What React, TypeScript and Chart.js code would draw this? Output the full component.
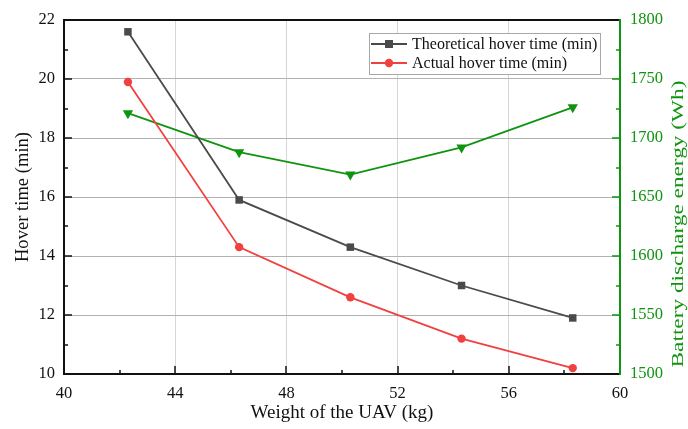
import React, { useEffect, useRef } from "react";
import { Chart, registerables } from "chart.js";

Chart.register(...registerables);

const weights = [42.3, 46.3, 50.3, 54.3, 58.3];
const theoretical = [21.6, 15.9, 14.3, 13.0, 11.9];
const actual = [19.9, 14.3, 12.6, 11.2, 10.2];
const energy = [1721, 1688, 1669, 1692, 1726];

const xTitle = "Weight of the UAV (kg)";
const yTitle = "Hover time (min)";
const y2Title = "Battery discharge energy (Wh)";
const legendLabels = ["Theoretical hover time (min)", "Actual hover time (min)"];

const GRAY = "#4a4a4a";
const RED = "#f0413e";
const GREEN = "#0f940f";
const FONT = '"Liberation Serif", "Times New Roman", serif';

const framePlugin = {
  id: "frame",
  afterDraw(chart: any) {
    const ctx = chart.ctx;
    const { left, right, top, bottom } = chart.chartArea;
    const xs = chart.scales.x;
    const ys = chart.scales.y;
    const y2 = chart.scales.y2;
    ctx.save();
    ctx.lineCap = "butt";
    // ticks
    ctx.lineWidth = 1.5;
    ctx.strokeStyle = "#111";
    for (let v = 40; v <= 60; v += 2) {
      const px = Math.round(xs.getPixelForValue(v));
      const len = v % 4 === 0 ? 8 : 4;
      ctx.beginPath();
      ctx.moveTo(px, bottom);
      ctx.lineTo(px, bottom - len);
      ctx.stroke();
    }
    for (let v = 10; v <= 22; v += 1) {
      const py = Math.round(ys.getPixelForValue(v));
      const len = v % 2 === 0 ? 8 : 4;
      ctx.beginPath();
      ctx.moveTo(left, py);
      ctx.lineTo(left + len, py);
      ctx.stroke();
    }
    ctx.strokeStyle = GREEN;
    for (let v = 1500; v <= 1800; v += 25) {
      const py = Math.round(y2.getPixelForValue(v));
      const len = v % 50 === 0 ? 8 : 4;
      ctx.beginPath();
      ctx.moveTo(right, py);
      ctx.lineTo(right - len, py);
      ctx.stroke();
    }
    // borders
    ctx.lineWidth = 2;
    ctx.strokeStyle = "#111";
    ctx.beginPath();
    ctx.moveTo(left, top);
    ctx.lineTo(right, top);
    ctx.moveTo(left, top - 1);
    ctx.lineTo(left, bottom + 1);
    ctx.moveTo(left, bottom);
    ctx.lineTo(right, bottom);
    ctx.stroke();
    ctx.strokeStyle = GREEN;
    ctx.beginPath();
    ctx.moveTo(right, top - 1);
    ctx.lineTo(right, bottom + 1);
    ctx.stroke();

    // titles
    ctx.textAlign = "center";
    ctx.textBaseline = "middle";
    ctx.fillStyle = "#111";
    ctx.font = `19px ${FONT}`;
    ctx.fillText(xTitle, (left + right) / 2, 413);
    ctx.font = `18.6px ${FONT}`;
    ctx.save();
    ctx.translate(23, 197);
    ctx.rotate(-Math.PI / 2);
    ctx.fillText(yTitle, 0, 0);
    ctx.restore();
    ctx.save();
    ctx.fillStyle = GREEN;
    ctx.font = `17px ${FONT}`;
    ctx.translate(679, 224);
    ctx.rotate(-Math.PI / 2);
    ctx.scale(1.37, 1);
    ctx.fillText(y2Title, 0, 0);
    ctx.restore();

    // legend
    const bx = 369.5, by = 33.5, bw = 231, bh = 41;
    ctx.fillStyle = "#fff";
    ctx.fillRect(bx, by, bw, bh);
    ctx.lineWidth = 1;
    ctx.strokeStyle = "#a8a8a8";
    ctx.strokeRect(bx, by, bw, bh);
    const rows = [
      { y: 44, color: GRAY, style: "rect" },
      { y: 63, color: RED, style: "circle" },
    ];
    ctx.font = `16px ${FONT}`;
    ctx.textAlign = "left";
    rows.forEach((r, i) => {
      ctx.strokeStyle = r.color;
      ctx.lineWidth = 1.8;
      ctx.beginPath();
      ctx.moveTo(371, r.y);
      ctx.lineTo(407, r.y);
      ctx.stroke();
      ctx.fillStyle = r.color;
      ctx.beginPath();
      if (r.style === "rect") {
        ctx.rect(389 - 4, r.y - 4, 8, 8);
      } else {
        ctx.arc(389, r.y, 4.2, 0, Math.PI * 2);
      }
      ctx.fill();
      ctx.fillStyle = "#111";
      ctx.fillText(legendLabels[i], 412, r.y + 1);
    });
    ctx.restore();
  },
};

export default function App() {
  const ref = useRef<HTMLCanvasElement | null>(null);
  useEffect(() => {
    if (!ref.current) return;
    const chart = new Chart(ref.current, {
      type: "line",
      data: {
        datasets: [
          {
            label: legendLabels[0],
            data: weights.map((w, i) => ({ x: w, y: theoretical[i] })),
            yAxisID: "y",
            borderColor: GRAY,
            backgroundColor: GRAY,
            borderWidth: 1.8,
            pointStyle: "rect",
            pointRadius: 5.3,
            pointBorderWidth: 0,
            tension: 0,
          },
          {
            label: legendLabels[1],
            data: weights.map((w, i) => ({ x: w, y: actual[i] })),
            yAxisID: "y",
            borderColor: RED,
            backgroundColor: RED,
            borderWidth: 1.8,
            pointStyle: "circle",
            pointRadius: 4.2,
            pointBorderWidth: 0,
            tension: 0,
          },
          {
            label: y2Title,
            data: weights.map((w, i) => ({ x: w, y: energy[i] })),
            yAxisID: "y2",
            borderColor: GREEN,
            backgroundColor: GREEN,
            borderWidth: 1.8,
            pointStyle: "triangle",
            pointRotation: 180,
            pointRadius: 6,
            pointBorderWidth: 0,
            tension: 0,
          },
        ],
      },
      options: {
        responsive: false,
        animation: false,
        layout: { padding: { top: 20, left: 0, right: 0, bottom: 0 } },
        plugins: { legend: { display: false }, tooltip: { enabled: false } },
        scales: {
          x: {
            type: "linear",
            min: 40,
            max: 60,
            afterFit: (s: any) => {
              s.height = 55;
            },
            ticks: {
              stepSize: 4,
              padding: 10,
              color: "#111",
              font: { family: FONT, size: 16.5 },
              callback: (v: any) => String(v),
            },
            grid: { color: "#d6d6d6", lineWidth: 1, drawTicks: false },
            border: { display: false },
          },
          y: {
            type: "linear",
            position: "left",
            min: 10,
            max: 22,
            afterFit: (s: any) => {
              s.width = 64;
            },
            ticks: {
              stepSize: 2,
              padding: 9,
              color: "#111",
              font: { family: FONT, size: 16.5 },
              callback: (v: any) => String(v),
            },
            grid: { color: "#b2b2b2", lineWidth: 1, drawTicks: false },
            border: { display: false },
          },
          y2: {
            type: "linear",
            position: "right",
            min: 1500,
            max: 1800,
            afterFit: (s: any) => {
              s.width = 68;
            },
            ticks: {
              stepSize: 50,
              padding: 10,
              color: GREEN,
              font: { family: FONT, size: 16.5 },
              callback: (v: any) => String(v),
            },
            grid: { display: false, drawTicks: false },
            border: { display: false },
          },
        },
      },
      plugins: [framePlugin],
    });
    return () => chart.destroy();
  }, []);
  return (
    <div style={{ position: "absolute", left: 0, top: 0, width: 688, height: 429, background: "#fff" }}>
      <canvas ref={ref} width={688} height={429} />
    </div>
  );
}
